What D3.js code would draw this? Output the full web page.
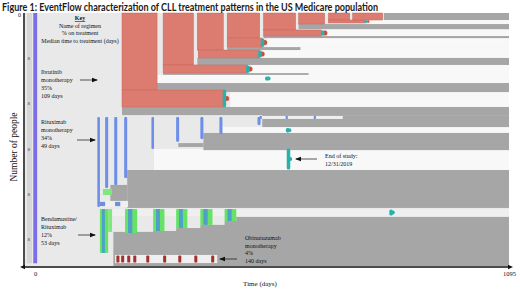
<!DOCTYPE html>
<html>
<head>
<meta charset="utf-8">
<script src="https://cdn.jsdelivr.net/npm/d3@7"></script>
<style>
  body { margin: 0; background: #fff; }
  svg { display: block; }
  .serif { font-family: "Liberation Serif", "DejaVu Serif", serif; fill: #111; }
</style>
</head>
<body>
<svg id="chart" width="520" height="290"></svg>
<script>
// ---- data (days on x, people on y) ----
const xTicks = [0, 1095];
const xTickLabels = ["0", "1095"];
const yTicks = [0, 200, 400, 600, 800, 1000];
const yTickLabels = ["0", "8", "8", "8", "8", "8"];

// diagnosis column at day 0
const diagnosisBar = [-4, 5, 0, 1108];

// [start day, end day, first person, last person]
const ibrutinibBars = [
  [201, 282, 0, 341], [201, 440, 341, 416],
  [296, 366, 0, 230], [296, 491, 230, 266],
  [375, 435, 0, 164], [377, 519, 164, 199],
  [444, 519, 0, 111], [444, 525, 111, 151],
  [528, 602, 0, 75], [528, 662, 75, 102],
  [609, 669, 0, 49],
  [678, 727, 0, 31], [678, 764, 31, 44],
  [734, 803, 0, 31]
];

const noTreatmentBars = [
  [806, 1095, 0, 31], [609, 1095, 49, 71], [528, 1095, 102, 111], [444, 613, 151, 164],
  [375, 1095, 199, 230], [296, 632, 266, 274], [282, 1095, 310, 350], [201, 1095, 416, 452],
  [525, 1095, 452, 505], [389, 1095, 531, 607], [331, 389, 576, 593],
  [213, 1095, 695, 863], [174, 213, 761, 832],
  [181, 1095, 969, 1120], [273, 1095, 965, 1120], [326, 1095, 952, 1120],
  [382, 1095, 938, 1120], [438, 1095, 921, 1120], [465, 1095, 903, 1120]
];

const censoredBars = [
  [771, 1095, 31, 49], [674, 1095, 75, 102], [535, 1095, 111, 151], [613, 1095, 151, 164],
  [525, 1095, 164, 199], [498, 1095, 230, 266], [632, 1095, 266, 274], [282, 1095, 274, 310],
  [451, 1095, 350, 416], [433, 1095, 505, 531], [275, 1095, 602, 695]
];

const followStrips = [
  [521, 711, 456, 469], [146, 215, 832, 859], [178, 1095, 868, 899], [185, 421, 1071, 1107]
];

const rituximabBars = [
  [144, 150, 460, 859], [162, 169, 460, 775], [183, 190, 460, 761], [206, 213, 460, 730],
  [269, 275, 460, 602], [326, 333, 460, 570], [382, 389, 460, 558], [426, 433, 460, 536],
  [514, 521, 460, 496]
];
const rituximabMarks = [
  [519, 524, 456, 469], [579, 584, 456, 469], [644, 649, 456, 469],
  [150, 162, 836, 855], [185, 197, 836, 855]
];
const bendamustineBars = [
  [150, 169, 868, 1062], [208, 236, 868, 974], [273, 299, 868, 965],
  [326, 352, 868, 952], [382, 410, 868, 938], [438, 465, 868, 921]
];
const bendamustineSide = [[169, 178, 868, 969], [157, 178, 779, 806]];
const obinutuzumabStarts = [188, 199, 213, 227, 257, 296, 331, 368, 407];
const obinutuzumabRows = [1073, 1105];

// end of study markers [day, first person, last person]
const studyEndIbrutinib = [
  [437, 341, 416], [491, 232, 264], [519, 166, 197], [525, 113, 149], [664, 77, 100], [764, 32, 43]
];
const studyEndOther = [[535, 281, 299], [583, 509, 529], [585, 600, 693], [822, 870, 896]];

// ---- scales ----
const svg = d3.select("#chart");
const x = d3.scaleLinear().domain([0, 1095]).range([35, 509]);
const y = d3.scaleLinear().domain([0, 1120]).range([13, 266]);

// plot background
svg.append("rect")
  .attr("x", 25).attr("y", y(0))
  .attr("width", x(1095) - 25).attr("height", y(1120) - y(0))
  .attr("fill", "#e9e9e9");

// dotted strip left of diagnosis column
svg.append("rect")
  .attr("x", x(0) - 8).attr("y", y(0))
  .attr("width", 5).attr("height", y(1108) - y(0))
  .attr("fill", "#d6d6d6");

function bars(data, color, cls) {
  svg.append("g").attr("class", cls)
    .selectAll("rect").data(data).join("rect")
    .attr("x", d => x(d[0]))
    .attr("y", d => y(d[2]))
    .attr("width", d => x(d[1]) - x(d[0]))
    .attr("height", d => y(d[3]) - y(d[2]))
    .attr("fill", color);
}

bars(censoredBars, "#f8f8f8", "censored");
bars(noTreatmentBars, "#a6a6a6", "none");
bars(followStrips, "#efefef", "strips");

// Ibrutinib
bars(ibrutinibBars, "#dc7b70", "ibrutinib");
svg.select(".ibrutinib").selectAll("rect").attr("stroke", "#c9665c").attr("stroke-width", 0.5);

// Rituximab
bars(rituximabBars, "#6d8fe8", "rituximab");
svg.select(".rituximab").selectAll("rect").attr("rx", 1);
bars(rituximabMarks, "#6d8fd8", "ritmarks");

// Bendamustine / Rituximab
bars(bendamustineBars, "#66e266", "br");
bars(bendamustineSide, "#7ee87a", "brside");
svg.append("g").selectAll("rect").data(bendamustineBars).join("rect")
  .attr("x", d => x(d[0] + (d[1] - d[0]) * 0.25))
  .attr("y", d => y(d[2]))
  .attr("width", d => x(d[0] + (d[1] - d[0]) * 0.6) - x(d[0] + (d[1] - d[0]) * 0.25))
  .attr("height", d => y(d[3]) - y(d[2]))
  .attr("fill", "#4f9fc8");

// Obinutuzumab
svg.append("g").selectAll("rect").data(obinutuzumabStarts).join("rect")
  .attr("x", d => x(d))
  .attr("y", y(obinutuzumabRows[0]))
  .attr("width", x(7) - x(0))
  .attr("height", y(obinutuzumabRows[1]) - y(obinutuzumabRows[0]))
  .attr("rx", 1.2)
  .attr("fill", "#a3322f");

// end of study markers
svg.append("g").selectAll("circle").data(studyEndIbrutinib).join("circle")
  .attr("cx", d => x(d[0]) + 2.5)
  .attr("cy", d => (y(d[1]) + y(d[2])) / 2)
  .attr("r", d => Math.min(2.5, (y(d[2]) - y(d[1])) / 2))
  .attr("fill", "#d9473c");
svg.append("g").selectAll("rect").data(studyEndIbrutinib.concat(studyEndOther)).join("rect")
  .attr("x", d => x(d[0]) - 1.5)
  .attr("y", d => y(d[1]))
  .attr("width", 3.5)
  .attr("height", d => y(d[2]) - y(d[1]))
  .attr("rx", 1.5)
  .attr("fill", "#27b3ac");
svg.append("g").selectAll("circle").data(studyEndOther).join("circle")
  .attr("cx", d => x(d[0]) + 2)
  .attr("cy", d => (y(d[1]) + y(d[2])) / 2)
  .attr("r", d => Math.min(2, (y(d[2]) - y(d[1])) / 2))
  .attr("fill", "#27b3ac");

// diagnosis
bars([diagnosisBar], "#7c6ee6", "diagnosis");

// ---- axes ----
const axisColor = "#111";
svg.append("line")
  .attr("x1", 24).attr("x2", 24).attr("y1", y(0)).attr("y2", y(1120) + 1)
  .attr("stroke", axisColor).attr("stroke-width", 1.5);
svg.append("line")
  .attr("x1", 24).attr("x2", x(1095) + 1).attr("y1", y(1120) + 1).attr("y2", y(1120) + 1)
  .attr("stroke", axisColor).attr("stroke-width", 1.5);
svg.append("path")
  .attr("d", `M${x(1095) + 4},${y(1120) + 1} l-5,-2.2 v4.4 z`)
  .attr("fill", axisColor);
svg.append("path")
  .attr("d", `M20,${y(1120) + 1} l5,-2.2 v4.4 z`)
  .attr("fill", axisColor);

const yAxis = svg.append("g")
  .attr("transform", "translate(24,0)")
  .call(d3.axisLeft(y).tickValues(yTicks).tickSize(0).tickPadding(3)
    .tickFormat((d, i) => i === 0 ? yTickLabels[i] : ""));
yAxis.select(".domain").remove();
yAxis.selectAll("text").attr("class", "serif").style("font-size", "6px")
  .attr("dy", "0.6em");
svg.append("g").selectAll("text").data(yTicks.slice(1)).join("text")
  .attr("class", "serif")
  .attr("x", 27.5).attr("y", d => y(d) + 2)
  .style("font-size", "5px").style("fill", "#444")
  .text((d, i) => yTickLabels[i + 1]);

const xAxis = svg.append("g")
  .attr("transform", `translate(0,${y(1120) + 1})`)
  .call(d3.axisBottom(x).tickValues(xTicks).tickSize(0).tickPadding(4)
    .tickFormat((d, i) => xTickLabels[i]));
xAxis.select(".domain").remove();
xAxis.selectAll("text").attr("class", "serif").style("font-size", "6.5px");

svg.append("text").attr("class", "serif")
  .attr("x", 260).attr("y", 286).attr("text-anchor", "middle")
  .style("font-size", "7px").text("Time (days)");
svg.append("text").attr("class", "serif")
  .attr("transform", "translate(17,147) rotate(-90)")
  .attr("text-anchor", "middle")
  .style("font-size", "9.5px").text("Number of people");

// ---- title ----
svg.append("text")
  .attr("x", 2).attr("y", 10.5)
  .attr("textLength", 376).attr("lengthAdjust", "spacingAndGlyphs")
  .style("font-family", "Lato, 'Open Sans', sans-serif")
  .style("font-weight", 700).style("font-size", "11px").style("fill", "#1a1a1a")
  .text("Figure 1: EventFlow characterization of CLL treatment patterns in the US Medicare population");

// ---- annotations ----
const keyLines = ["Name of regimen", "% on treatment", "Median time to treatment (days)"];
const ibrutinibLabel = ["Ibrutinib", "monotherapy", "35%", "109 days"];
const rituximabLabel = ["Rituximab", "monotherapy", "34%", "49 days"];
const bendamustineLabel = ["Bendamustine/", "Rituximab", "12%", "53 days"];
const obinutuzumabLabel = ["Obinutuzumab", "monotherapy", "4%", "140 days"];
const studyEndLabel = ["End of study:", "12/31/2019"];

function block(lines, x0, y0, step, anchor) {
  svg.append("g").selectAll("text").data(lines).join("text")
    .attr("class", "serif")
    .attr("x", x0).attr("y", (d, i) => y0 + i * step)
    .attr("text-anchor", anchor || "start")
    .style("font-size", "6px")
    .text(d => d);
}

svg.append("text").attr("class", "serif")
  .attr("x", 80).attr("y", 20).attr("text-anchor", "middle")
  .style("font-size", "6px").style("font-weight", "bold")
  .style("text-decoration", "underline").text("Key");
block(keyLines, 80, 27.5, 7.8, "middle");
block(ibrutinibLabel, 41, 74, 8);
block(rituximabLabel, 41, 124, 8);
block(bendamustineLabel, 41, 221, 8);
block(obinutuzumabLabel, 245, 240, 7.6);
block(studyEndLabel, 325, 158, 8);

svg.append("defs").append("marker")
  .attr("id", "head").attr("viewBox", "0 0 6 6")
  .attr("refX", 5).attr("refY", 3)
  .attr("markerWidth", 6).attr("markerHeight", 6)
  .attr("markerUnits", "userSpaceOnUse")
  .attr("orient", "auto")
  .append("path").attr("d", "M0,0.8 L6,3 L0,5.2 z").attr("fill", "#111");

const arrows = [
  [80, 80, 97, 80], [77, 140, 95, 140], [78, 235, 95, 235],
  [237, 259, 220, 259], [317, 159, 296, 159]
];
svg.append("g").selectAll("line").data(arrows).join("line")
  .attr("x1", d => d[0]).attr("y1", d => d[1])
  .attr("x2", d => d[2]).attr("y2", d => d[3])
  .attr("stroke", "#111").attr("stroke-width", 0.7)
  .attr("marker-end", "url(#head)");
</script>
</body>
</html>
